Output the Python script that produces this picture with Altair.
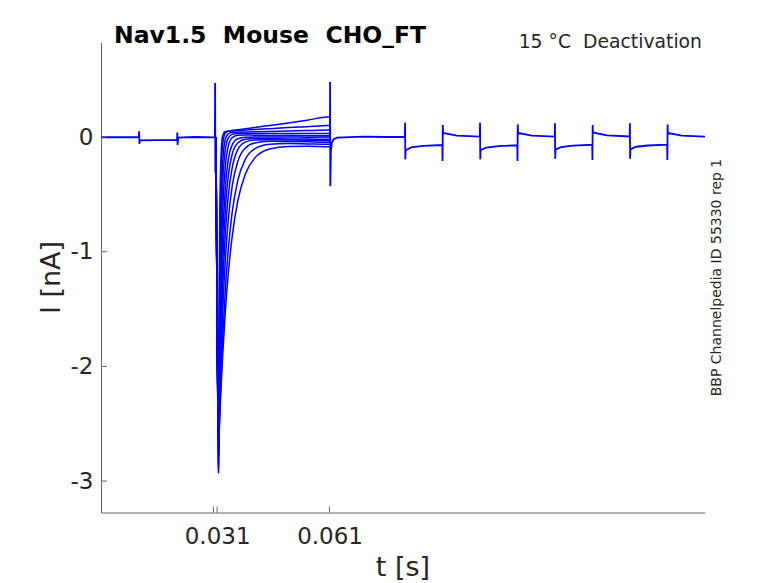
import altair as alt
import pandas as pd

# ---------------- data ----------------
# baseline before the test pulse (t in s, I in nA)
base1_t = [0.0, 0.0101, 0.01018, 0.01026, 0.0104, 0.0150, 0.0203, 0.02036, 0.02044, 0.0206,
           0.0250, 0.0304, 0.03046, 0.03052, 0.0306, 0.0307]
base1_i = [-0.002, -0.002, 0.05, -0.06, -0.03, -0.028, -0.027, 0.04, -0.07, -0.005,
           0.0, -0.003, 0.47, -0.31, -0.01, 0.0]

# after the test pulse, incl. the train of small steps
base2_t = [0.0611, 0.06114, 0.06120, 0.06135, 0.0616, 0.0621, 0.0630, 0.0700, 0.0760, 0.0811,
           0.08116, 0.08122, 0.0813, 0.0828, 0.0860, 0.0911,
           0.09116, 0.09122, 0.0913, 0.0950, 0.1011,
           0.10116, 0.10122, 0.1013, 0.1028, 0.1060, 0.1111,
           0.11116, 0.11122, 0.1113, 0.1150, 0.1211,
           0.12116, 0.12122, 0.1213, 0.1228, 0.1260, 0.1311,
           0.13116, 0.13122, 0.1313, 0.1350, 0.1411,
           0.14116, 0.14122, 0.1413, 0.1428, 0.1460, 0.1511,
           0.15116, 0.15122, 0.1513, 0.1550, 0.1612]
base2_i = [0.0, 0.48, -0.43, -0.13, -0.05, -0.02, -0.005, 0.003, 0.0, 0.002,
           0.125, -0.195, -0.115, -0.09, -0.078, -0.07,
           -0.21, 0.105, 0.035, 0.012, 0.004,
           0.125, -0.195, -0.115, -0.092, -0.08, -0.072,
           -0.21, 0.11, 0.035, 0.012, 0.004,
           0.12, -0.19, -0.11, -0.088, -0.076, -0.068,
           -0.20, 0.105, 0.04, 0.015, 0.005,
           0.12, -0.19, -0.108, -0.085, -0.074, -0.066,
           -0.20, 0.11, 0.035, 0.012, 0.003]

# sodium current sweeps during the test pulse
tail_t = [0.0307, 0.03135, 0.0315, 0.0317, 0.0320, 0.0325, 0.0332, 0.0340, 0.0350, 0.0365,
          0.0385, 0.0410, 0.0450, 0.0500, 0.0550, 0.0605, 0.0611]
sweep01 = [0.0, -2.93, -1.60, -0.71, -0.19, 0.015, 0.048, 0.052, 0.058, 0.064, 0.072, 0.083, 0.100, 0.122, 0.146, 0.175, 0.175]
sweep02 = [0.0, -2.88, -1.83, -1.01, -0.40, -0.058, 0.036, 0.05, 0.053, 0.057, 0.061, 0.066, 0.073, 0.082, 0.09, 0.10, 0.10]
sweep03 = [0.0, -2.90, -2.07, -1.34, -0.69, -0.21, -0.017, 0.03, 0.04, 0.042, 0.044, 0.046, 0.049, 0.052, 0.056, 0.06, 0.06]
sweep04 = [0.0, -2.82, -2.18, -1.56, -0.94, -0.40, -0.106, -0.007, 0.023, 0.03, 0.031, 0.03, 0.031, 0.03, 0.031, 0.03, 0.03]
sweep05 = [0.0, -2.85, -2.33, -1.80, -1.22, -0.63, -0.25, -0.075, -0.006, 0.016, 0.018, 0.016, 0.014, 0.013, 0.011, 0.01, 0.01]
sweep06 = [0.0, -2.78, -2.39, -1.95, -1.44, -0.87, -0.43, -0.19, -0.07, -0.015, -0.002, 0.0, -0.001, 0.0, -0.002, -0.001, -0.001]
sweep07 = [0.0, -2.80, -2.49, -2.11, -1.65, -1.10, -0.62, -0.33, -0.15, -0.052, -0.020, -0.014, -0.015, -0.017, -0.018, -0.02, -0.02]
sweep08 = [0.0, -2.75, -2.51, -2.20, -1.81, -1.30, -0.83, -0.50, -0.27, -0.11, -0.045, -0.027, -0.024, -0.026, -0.028, -0.03, -0.03]
sweep09 = [0.0, -2.70, -2.53, -2.28, -1.96, -1.51, -1.06, -0.71, -0.43, -0.215, -0.097, -0.052, -0.038, -0.04, -0.042, -0.045, -0.045]
sweep10 = [0.0, -2.72, -2.61, -2.41, -2.13, -1.75, -1.32, -0.97, -0.66, -0.38, -0.196, -0.104, -0.064, -0.057, -0.06, -0.064, -0.064]
sweep11 = [0.0, -2.65, -2.59, -2.43, -2.21, -1.89, -1.51, -1.18, -0.87, -0.56, -0.325, -0.184, -0.104, -0.083, -0.081, -0.085, -0.085]

x_ticks = [0.030, 0.031, 0.061]
y_ticks = [-3, -2, -1, 0]

NB = "\u00a0"
title_text = "Nav1.5" + NB + NB + "Mouse" + NB + NB + "CHO_FT"
subtitle_text = "15" + NB + "°C" + NB + NB + "Deactivation"
side_text = "BBP Channelpedia ID 55330 rep 1"
x_title = "t [s]"
y_title = "I [nA]"

# ---------------- tables ----------------
rows = []
for name, ts, vs in [("b1", base1_t, base1_i), ("b2", base2_t, base2_i)]:
    for k, (t, v) in enumerate(zip(ts, vs)):
        rows.append({"trace": name, "k": k, "t": t, "I": v})
base_df = pd.DataFrame(rows)

sweeps = [sweep01, sweep02, sweep03, sweep04, sweep05, sweep06,
          sweep07, sweep08, sweep09, sweep10, sweep11]
rows = []
for j, s in enumerate(sweeps):
    for k, (t, v) in enumerate(zip(tail_t, s)):
        rows.append({"trace": f"s{j}", "k": k, "t": t, "I": v})
tail_df = pd.DataFrame(rows)

FONT = "DejaVu Sans"
BLUE = "#0000ff"
AX = "#666666"
TXT = "#262626"

xs = alt.Scale(domain=[0.0, 0.1612], nice=False, zero=False)
ys = alt.Scale(domain=[-3.274, 0.824], nice=False, zero=False)

xaxis = alt.Axis(values=x_ticks, labelExpr="datum.value == 0.03 ? '' : format(datum.value, '.3f')",
                 ticks=False, tickSize=0, grid=False, domainColor=AX, domainWidth=1,
                 labelFont=FONT, labelFontSize=23, labelColor=TXT, labelPadding=13,
                 labelFlush=False, labelOverlap=False, title=None)
yaxis = alt.Axis(values=y_ticks, labelExpr="'' + datum.value",
                 ticks=False, tickSize=0, grid=False, domainColor=AX, domainWidth=1,
                 labelFont=FONT, labelFontSize=23, labelColor=TXT, labelPadding=8,
                 labelFlush=False, labelOverlap=False, title=None)

base = alt.Chart(base_df).mark_line(color=BLUE, strokeWidth=1.8, interpolate="linear").encode(
    x=alt.X("t:Q", scale=xs, axis=xaxis),
    y=alt.Y("I:Q", scale=ys, axis=yaxis),
    detail="trace:N",
    order="k:Q",
)

tails = alt.Chart(tail_df).mark_line(color=BLUE, strokeWidth=1.5, interpolate="monotone").encode(
    x=alt.X("t:Q", scale=xs),
    y=alt.Y("I:Q", scale=ys),
    detail="trace:N",
    order="k:Q",
)

xt = alt.Chart(pd.DataFrame({"t": x_ticks})).mark_rule(color=AX, strokeWidth=1).encode(
    x=alt.X("t:Q", scale=xs), y=alt.value(470), y2=alt.value(464))
yt = alt.Chart(pd.DataFrame({"I": y_ticks})).mark_rule(color=AX, strokeWidth=1).encode(
    y=alt.Y("I:Q", scale=ys), x=alt.value(0), x2=alt.value(6))

def label(txt, x, y, size, bold=False, angle=0, align="left"):
    kw = dict(font=FONT, fontSize=size, color="#000000" if bold else TXT, align=align,
              baseline="alphabetic", fontWeight="bold" if bold else "normal")
    if angle:
        kw["angle"] = angle
    return alt.Chart(pd.DataFrame({"txt": [txt]})).mark_text(**kw).encode(
        text="txt:N", x=alt.value(x), y=alt.value(y))

texts = [
    label(title_text, 13, 0, 23.5, bold=True),
    label(subtitle_text, 601, 5.2, 18.8, align="right"),
    label(side_text, 620, 235, 14, angle=270, align="center"),
    label(x_title, 302, 533, 27, align="center"),
    label(y_title, -41, 235, 27, angle=270, align="center"),
]

chart = alt.layer(base, tails, xt, yt, *texts).properties(
    width=604, height=470,
    autosize=alt.AutoSizeParams(type="none"),
    padding={"left": 93, "top": 34.5, "right": 65, "bottom": 70},
    background="white",
).configure_view(stroke=None)

chart.save("out.html", embed_options={"renderer": "svg", "actions": False})
